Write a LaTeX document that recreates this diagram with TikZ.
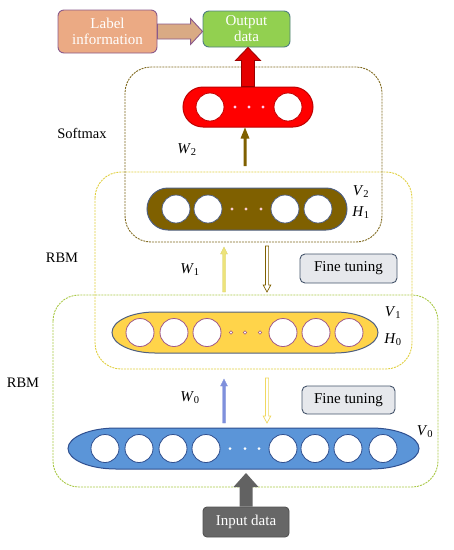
\documentclass[tikz,border=0pt]{standalone}
\usepackage{fontspec}
\setmainfont{Liberation Serif}
\usetikzlibrary{calc}
\definecolor{olivebr}{HTML}{7F6000}
\definecolor{slate}{HTML}{4F5F80}
\definecolor{pinkb}{HTML}{A05A88}
\definecolor{yelfill}{HTML}{FFD44A}
\definecolor{bluefill}{HTML}{5B95D8}
\definecolor{bluebord}{HTML}{2F4F8F}
\definecolor{labfill}{HTML}{EBAA84}
\definecolor{labbord}{HTML}{8A5A8A}
\definecolor{outfill}{HTML}{92D050}
\definecolor{outbord}{HTML}{4F7F80}
\definecolor{arrtan}{HTML}{D9AA84}
\definecolor{ftfill}{HTML}{E6E8EC}
\definecolor{ftbord}{HTML}{44546A}
\definecolor{inpfill}{HTML}{676767}
\definecolor{softdash}{HTML}{806A20}
\definecolor{rbmdash}{HTML}{E0CF40}
\definecolor{greendash}{HTML}{A9C846}
\definecolor{lightyel}{HTML}{EDE37A}
\definecolor{w0blue}{HTML}{7F90DC}
\definecolor{downyel}{HTML}{F0D860}
\newcommand{\vupblock}[6]{\draw[#1] let \p1=(#2), \p2=(#3) in (\x1-#4,\y1) -- (\x1-#4,\y2-#6) -- (\x1-#5,\y2-#6) -- (\x1,\y2) -- (\x1+#5,\y2-#6) -- (\x1+#4,\y2-#6) -- (\x1+#4,\y1) -- cycle;}
\newcommand{\vdownblock}[6]{\draw[#1] let \p1=(#2), \p2=(#3) in (\x1-#4,\y1) -- (\x1-#4,\y2+#6) -- (\x1-#5,\y2+#6) -- (\x1,\y2) -- (\x1+#5,\y2+#6) -- (\x1+#4,\y2+#6) -- (\x1+#4,\y1) -- cycle;}
\newcommand{\hrblock}[6]{\draw[#1] let \p1=(#2), \p2=(#3) in (\x1,\y1-#4) -- (\x2-#6,\y1-#4) -- (\x2-#6,\y1-#5) -- (\x2,\y1) -- (\x2-#6,\y1+#5) -- (\x2-#6,\y1+#4) -- (\x1,\y1+#4) -- cycle;}
\tikzset{
  txt/.style={font=\fontsize{14.5}{16}\selectfont, inner sep=0pt},
  varlab/.style={font=\fontsize{15}{16}\selectfont, inner sep=0pt},
  boxw/.style={draw, line width=0.9pt, rounded corners=6pt, align=center, text=white, font=\fontsize{15}{16}\selectfont, inner sep=1pt},
  ftbox/.style={draw=ftbord, fill=ftfill, line width=0.9pt, rounded corners=5pt, font=\fontsize{15}{16}\selectfont, inner sep=0pt},
  dashbox/.style={dashed, dash pattern=on 2pt off 1pt, line width=0.9pt, rounded corners=26pt},
  unitc/.style={circle, draw, fill=white, minimum size=28pt, inner sep=0pt, line width=0.8pt},
  dotc/.style={circle, inner sep=0pt, minimum size=3.4pt},
}
\begin{document}
\begin{tikzpicture}[x=1pt,y=-1pt]
\useasboundingbox (0,0) rectangle (454,550);
% dashed group boxes
\draw[dashbox, draw=greendash] (53,295) rectangle (438,487);
\draw[dashbox, draw=rbmdash] (95,172) rectangle (412,369);
\draw[dashbox, draw=softdash] (125,67) rectangle (382,242);
% top boxes
\node[boxw, draw=labbord, fill=labfill, minimum width=99pt, minimum height=43pt] (lab) at (107.5,31.5) {Label\\information};
\node[boxw, draw=outbord, fill=outfill, minimum width=87pt, minimum height=36pt] (out) at (246.5,29) {Output\\data};
\hrblock{draw=labbord, fill=arrtan, line width=0.9pt}{lab.east}{out.west}{7.5pt}{13pt}{12pt}
% red softmax bar
\node[draw=red!75!black, fill=red, line width=1pt, rounded corners=20pt, minimum width=130pt, minimum height=40pt] (rb) at (248,107) {};
\foreach \x/\n in {210/a,288/b} \node[unitc, draw=red!75!black] (rc\n) at (\x,107) {};
\foreach \x/\n in {235/a,249/b,263/c} \node[dotc, fill=pink!70!magenta!40] (rd\n) at (\x,107) {};
\vupblock{draw=red!60!black, fill=red!90!black, line width=0.8pt}{rb.north}{out.south}{6.5pt}{12.5pt}{13pt}
% brown bar
\node[draw=slate, fill=olivebr, line width=1pt, rounded corners=21pt, minimum width=200pt, minimum height=42pt] (bb) at (247,209) {};
\foreach \x/\n in {176/a,208/b,285/c,318/d} \node[unitc, draw=slate] (bc\n) at (\x,209) {};
\foreach \x/\n in {232/a,246/b,261/c} \node[dotc, fill=pink!80!purple!50] (bd\n) at (\x,209) {};
% W2 arrow
\coordinate (w2s) at (245,166);
\vupblock{draw=none, fill=olivebr}{w2s}{rb.south}{1.5pt}{4.5pt}{11pt}
% yellow bar
\draw[fill=yelfill, draw=slate, line width=1pt] (155,312) -- (335,312) arc[start angle=-90,end angle=90,x radius=43,y radius=20.5] -- (155,353) arc[start angle=90,end angle=270,x radius=43,y radius=20.5] -- cycle;
\coordinate (yb) at (245,332.5);
\foreach \x/\n in {140/a,174/b,207/c,283/d,316/e,349/f} \node[unitc, draw=pinkb] (yc\n) at (\x,332.5) {};
\foreach \x/\n in {231/a,245/b,260/c} \node[dotc, fill=white, draw=pinkb, line width=0.5pt] (yd\n) at (\x,332.5) {};
% blue bar
\draw[fill=bluefill, draw=bluebord, line width=1pt] (116,428) -- (371,428) arc[start angle=-90,end angle=90,x radius=48,y radius=20.5] -- (116,469) arc[start angle=90,end angle=270,x radius=48,y radius=20.5] -- cycle;
\foreach \x/\n in {105/a,139/b,173/c,206/d,283/e,315/f,348/g,383/h} \node[unitc, draw=bluebord] (uc\n) at (\x,448.5) {};
\foreach \x/\n in {230/a,245/b,259/c} \node[dotc, fill=white, minimum size=3pt] (ud\n) at (\x,448.5) {};
% arrows between RBMs
\coordinate (w1s) at (224,292); \coordinate (w1e) at (224,247);
\vupblock{draw=lightyel!80!olive, fill=lightyel, line width=0.4pt}{w1s}{w1e}{1.5pt}{3.5pt}{7pt}
\coordinate (d1s) at (267,246); \coordinate (d1e) at (267,292);
\vdownblock{draw=olivebr, fill=white, line width=0.7pt}{d1s}{d1e}{1.6pt}{3.8pt}{7pt}
\coordinate (w0s) at (224,423); \coordinate (w0e) at (224,379);
\vupblock{draw=w0blue, fill=w0blue, line width=0.4pt}{w0s}{w0e}{1.5pt}{3.5pt}{7pt}
\coordinate (d0s) at (267,378); \coordinate (d0e) at (267,423);
\vdownblock{draw=downyel, fill=white, line width=0.7pt}{d0s}{d0e}{1.6pt}{3.8pt}{7pt}
% fine tuning boxes
\node[ftbox, minimum width=97pt, minimum height=29pt] (ft1) at (348.5,268.5) {Fine tuning};
\node[ftbox, minimum width=93pt, minimum height=28pt] (ft2) at (348.5,400) {Fine tuning};
% input
\node[boxw, draw=inpfill!80!black, fill=inpfill, minimum width=86pt, minimum height=30pt, rounded corners=4pt] (inp) at (246,522) {Input data};
\coordinate (inptip) at (246,473);
\vupblock{draw=none, fill=inpfill!95!black}{inp.north}{inptip}{6.5pt}{12.5pt}{14pt}
% labels
\node[txt] (lsoft) at (82,133) {Softmax};
\node[txt] (lrbm1) at (62,258) {RBM};
\node[txt] (lrbm2) at (23,383) {RBM};
\node[varlab] (lw2) at (187,150) {\textit{W}\textsubscript{2}};
\node[varlab] (lw1) at (190,270) {\textit{W}\textsubscript{1}};
\node[varlab] (lw0) at (190,398) {\textit{W}\textsubscript{0}};
\node[varlab] (lv2) at (361,192) {\textit{V}\textsubscript{2}};
\node[varlab] (lh1) at (361,213) {\textit{H}\textsubscript{1}};
\node[varlab] (lv1) at (393,313) {\textit{V}\textsubscript{1}};
\node[varlab] (lh0) at (393,340) {\textit{H}\textsubscript{0}};
\node[varlab] (lv0) at (425,432) {\textit{V}\textsubscript{0}};
\end{tikzpicture}
\end{document}
